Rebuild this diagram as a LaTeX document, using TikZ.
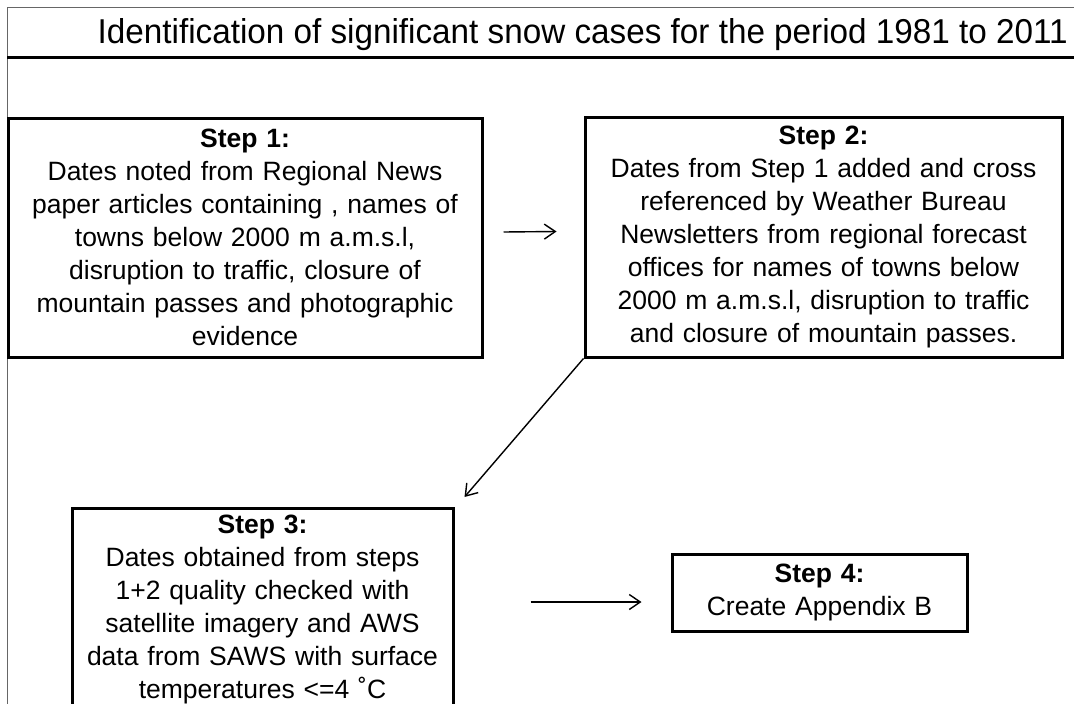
\documentclass[tikz,border=0pt]{standalone}
\usepackage{fontspec}
\setmainfont{Liberation Sans}[WordSpace=1.2]
\newfontfamily\titlefont{Liberation Sans}
\usetikzlibrary{arrows.meta}

\begin{document}
\begin{tikzpicture}[x=1pt, y=-1pt,
        stepbox/.style={rectangle, draw=black, line width=3pt, align=center, inner sep=0pt,
            font=\fontsize{26.5}{33}\selectfont},
        arr/.style={line width=1.4pt, -{Straight Barb[length=11pt, width=15pt, line width=1.4pt]}}]
    \clip (0,0) rectangle (1074,704);
    % frame and title
    \draw[black!60, line width=1pt] (7,704) -- (7,7) -- (1074,7);
    \draw[line width=3pt] (7,57) -- (1074,57);
    \node[anchor=base east, inner sep=0pt] (title) at (1068,43)
        {\titlefont\resizebox{970pt}{25pt}{Identification of significant snow cases for the period 1981 to 2011}};
    % steps
    \node[stepbox, minimum width=474pt, minimum height=239pt] (s1) at (245,237.5)
        {\textbf{Step 1:}\\Dates noted from Regional News\\paper articles containing , names of\\towns below 2000 m a.m.s.l,\\disruption to traffic, closure of\\mountain passes and photographic\\evidence};
    \node[stepbox, minimum width=477pt, minimum height=240pt] (s2) at (823.5,237)
        {\textbf{Step 2:}\\Dates from Step 1 added and cross\\referenced by Weather Bureau\\Newsletters from regional forecast\\offices for names of towns below\\2000 m a.m.s.l, disruption to traffic\\and closure of mountain passes.};
    \node[stepbox, minimum width=381pt, inner ysep=6pt, anchor=north] (s3) at (262.5,507)
        {\textbf{Step 3:}\\Dates obtained from steps\\1+2 quality checked with\\satellite imagery and AWS\\data from SAWS with surface\\temperatures <=4 ˚C};
    \node[stepbox, minimum width=295pt, minimum height=77pt] (s4) at (819.5,592.5)
        {\textbf{Step 4:}\\Create Appendix B};
    % arrows
    \coordinate (s3in) at ([xshift=10pt, yshift=10pt]s3.north east);
    \draw[arr] ([xshift=20pt, yshift=5.5pt]s1.east) -- ([xshift=-27pt, yshift=5.5pt]s2.west);
    \draw[arr] (s2.south west) -- (s3in);
    \draw[arr] ([xshift=76pt, yshift=-9.5pt]s3.east |- s4.west) -- ([xshift=-29pt, yshift=-9.5pt]s4.west);
\end{tikzpicture}
\end{document}
